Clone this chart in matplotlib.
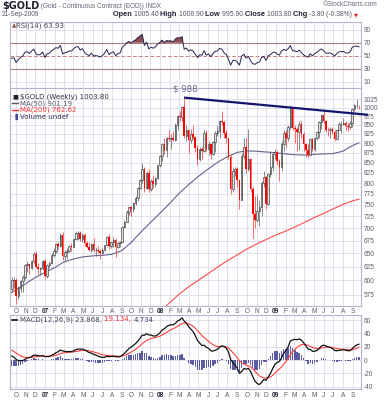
import matplotlib
matplotlib.use('Agg')
import matplotlib.pyplot as plt
import matplotlib.dates as mdates
from matplotlib import font_manager
from matplotlib.ticker import FixedLocator, NullLocator
import numpy as np
import pandas as pd

# ---------------- data (weekly, week starting Mondays) ----------------
first_week = '2006-09-18'
opens = [585, 600, 601, 573, 587, 598, 606, 627, 630, 622, 636, 648, 625, 620, 622,
         636, 608, 628, 632, 647, 655, 668, 665, 686, 645, 652, 655, 664, 663, 678,
         690, 691, 678, 686, 670, 662, 656, 668, 656, 657, 655, 651, 657, 666, 683,
         664, 672, 677, 662, 670, 673, 703, 714, 734, 745, 740, 754, 766, 788, 808,
         834, 788, 825, 785, 804, 797, 812, 843, 866, 897, 882, 914, 912, 914, 908,
         950, 975, 972, 1001, 920, 935, 910, 925, 916, 888, 858, 885, 880, 928, 886,
         898, 872, 903, 928, 933, 962, 958, 928, 914, 864, 786, 830, 834, 807, 762,
         866, 890, 835, 858, 785, 730, 718, 737, 745, 800, 815, 752, 822, 838, 872,
         878, 853, 838, 898, 928, 914, 945, 1002, 942, 940, 930, 953, 925, 897, 882,
         868, 912, 886, 915, 930, 958, 978, 962, 937, 936, 940, 930, 912, 937, 953,
         954, 956, 947, 944, 955, 996, 1007, 1005.4]
highs = [606, 606, 604, 590, 600, 610, 630, 635, 632, 638, 652, 654, 632, 625, 637,
         640, 630, 636, 650, 660, 670, 672, 690, 692, 656, 660, 666, 670, 680, 694,
         695, 694, 690, 690, 675, 672, 670, 680, 662, 664, 658, 660, 667, 685, 688,
         675, 682, 680, 672, 675, 705, 718, 738, 746, 748, 756, 770, 790, 810, 850,
         838, 830, 835, 810, 820, 815, 845, 870, 900, 915, 918, 935, 925, 932, 955,
         977, 990, 1005, 1034, 950, 940, 938, 950, 920, 895, 890, 890, 935, 935, 905,
         900, 905, 932, 948, 965, 990, 962, 935, 915, 868, 840, 840, 838, 810, 875,
         915, 915, 940, 862, 790, 770, 772, 760, 805, 830, 818, 825, 880, 875, 886,
         883, 860, 905, 935, 935, 950, 1008, 1003, 950, 945, 960, 960, 930, 900, 898,
         915, 915, 918, 932, 960, 980, 990, 965, 945, 945, 945, 935, 940, 958, 960,
         970, 960, 955, 960, 1000, 1012, 1025, 1006.9]
lows = [580, 586, 560, 568, 580, 580, 602, 615, 612, 620, 632, 622, 612, 610, 618,
        603, 605, 622, 630, 643, 650, 658, 662, 638, 635, 640, 652, 655, 662, 676,
        677, 675, 672, 665, 660, 655, 652, 652, 645, 651, 640, 648, 654, 664, 658,
        660, 662, 642, 660, 662, 672, 700, 712, 728, 725, 735, 750, 758, 785, 800,
        780, 786, 778, 782, 788, 790, 810, 838, 855, 873, 865, 905, 885, 905, 905,
        935, 960, 962, 915, 905, 875, 900, 912, 877, 845, 855, 860, 878, 880, 870,
        860, 868, 878, 920, 915, 950, 915, 900, 860, 775, 778, 818, 790, 740, 760,
        860, 825, 830, 780, 681, 700, 712, 705, 725, 790, 740, 750, 815, 830, 860,
        845, 805, 830, 880, 890, 905, 940, 935, 900, 880, 883, 915, 880, 863, 863,
        868, 880, 880, 910, 915, 940, 955, 930, 920, 915, 925, 905, 908, 935, 928,
        950, 935, 932, 940, 945, 990, 1000, 995.9]
closes = [600, 601, 573, 587, 598, 606, 627, 630, 622, 636, 648, 625, 620, 622, 636,
          608, 628, 632, 647, 655, 668, 665, 686, 645, 652, 655, 664, 663, 678, 690,
          691, 678, 686, 670, 662, 656, 668, 656, 657, 655, 651, 657, 666, 683, 664,
          672, 677, 662, 670, 673, 703, 714, 734, 745, 740, 754, 766, 788, 808, 834,
          788, 825, 785, 804, 797, 812, 843, 866, 897, 882, 914, 912, 914, 908, 950,
          975, 972, 1001, 920, 935, 910, 925, 916, 888, 858, 885, 880, 928, 886, 898,
          872, 903, 928, 933, 962, 958, 928, 914, 864, 786, 830, 834, 807, 762, 866,
          890, 835, 858, 785, 730, 718, 737, 745, 800, 815, 752, 822, 838, 872, 878,
          853, 838, 898, 928, 914, 945, 1002, 942, 940, 930, 953, 925, 897, 882, 868,
          912, 886, 915, 930, 958, 978, 962, 937, 936, 940, 930, 912, 937, 953, 954,
          956, 947, 944, 955, 996, 1007, 1007.6, 1003.8]

# moving averages (monthly samples + last value)
ma50_start = '2006-09-01'
ma50_vals = [574, 583, 594, 605, 614, 623, 633, 639, 643, 645, 646, 648, 655, 671,
             692, 712, 732, 754, 776, 797, 816, 834, 851, 865, 876, 880, 879, 877,
             875, 872, 870, 869, 871, 872, 873, 879, 894]
ma200_start = '2008-01-01'
ma200_vals = [548, 562, 576, 589, 600, 612, 624, 636, 647, 658, 668, 677, 686, 694,
              702, 712, 722, 731, 741, 751, 759]
last_date = '2009-09-21'
ma50_last = 901.19
ma200_last = 762.62

# indicator starting state (carried from before the visible period)
rsi_seed_gain, rsi_seed_loss = 6.0, 7.0
ema12_seed, ema26_seed, signal_seed = 618.0, 610.0, 17.0

trend_start = ('2008-03-17', 1030)
trend_end = ('2009-10-20', 979)

price_ticks = [575, 600, 625, 650, 675, 700, 725, 750, 775, 800, 825, 850, 875,
               900, 925, 950, 975, 1000, 1025]
rsi_ticks = [10, 30, 50, 70, 90]
macd_ticks = [-40, -20, 0, 20, 40, 60]

# ---------------- derived series ----------------
o = np.array(opens, float); h = np.array(highs, float)
l = np.array(lows, float); c = np.array(closes, float)
dates = pd.date_range(first_week, periods=len(c), freq='7D')
x = mdates.date2num(dates)

# RSI (Wilder, 14)
ag, al = rsi_seed_gain, rsi_seed_loss
rsi = []
prev = None
for v in c:
    if prev is not None:
        d = v - prev
        ag = (ag * 13 + max(d, 0)) / 14
        al = (al * 13 + max(-d, 0)) / 14
    rsi.append(100 - 100 / (1 + ag / al))
    prev = v
rsi = np.array(rsi)

# MACD (12,26,9)
e12, e26, sg = ema12_seed, ema26_seed, signal_seed
macd, sig = [], []
for v in c:
    e12 += 2 / 13 * (v - e12)
    e26 += 2 / 27 * (v - e26)
    m = e12 - e26
    sg += 0.2 * (m - sg)
    macd.append(m); sig.append(sg)
macd = np.array(macd); sig = np.array(sig)
hist = macd - sig

ma50_x = list(mdates.date2num(pd.date_range(ma50_start, periods=len(ma50_vals), freq='MS'))) + [mdates.datestr2num(last_date)]
ma50_y = ma50_vals + [ma50_last]
ma200_x = list(mdates.date2num(pd.date_range(ma200_start, periods=len(ma200_vals), freq='MS'))) + [mdates.datestr2num(last_date)]
ma200_y = ma200_vals + [ma200_last]

# ---------------- figure ----------------
names = {f.name for f in font_manager.fontManager.ttflist}
small_font = 'Liberation Sans Narrow' if 'Liberation Sans Narrow' in names else 'Liberation Sans'
plt.rcParams['font.family'] = ['DejaVu Sans']

W, H = 388, 400
fig = plt.figure(figsize=(3.88, 4.0), dpi=100)
fig.patch.set_facecolor('white')

def rect(x0, y0, x1, y1):
    return [x0 / W, 1 - y1 / H, (x1 - x0) / W, (y1 - y0) / H]

ax_r = fig.add_axes(rect(10, 22.3, 361, 88))
ax_p = fig.add_axes(rect(10, 88, 361, 305.7))
ax_m = fig.add_axes(rect(10, 315, 361, 389.3))

xmin = mdates.datestr2num('2006-09-12 14:00')
xmax = mdates.datestr2num('2009-09-27 14:00')
month_starts = pd.date_range('2006-10-01', '2009-09-01', freq='MS')
mx = mdates.date2num(month_starts)
mlabels = [("%02d" % (d.year % 100)) if d.month == 1 else d.strftime('%b')[0] for d in month_starts]

grid_c = '#dcdcea'
frame_c = '#b4b4cc'
lab_c = '#5a5a6a'

for ax in (ax_r, ax_p, ax_m):
    ax.set_xlim(xmin, xmax)
    ax.set_facecolor('white')
    for s in ax.spines.values():
        s.set_color(frame_c); s.set_linewidth(0.8)
    ax.yaxis.tick_right()
    ax.tick_params(axis='both', length=0, labelsize=4.7, colors=lab_c, pad=2)
    ax.set_xticks(mx)
    for xv in mx:
        ax.axvline(xv, color=grid_c, lw=0.6, zorder=0)

# ---- RSI panel ----
ax_r.set_ylim(0.3, 101.4)
ax_r.set_yticks(rsi_ticks)
ax_r.set_yticklabels([str(t) for t in rsi_ticks], family=small_font)
ax_r.set_xticklabels([])
for t in (10, 90):
    ax_r.axhline(t, color=grid_c, lw=0.6, zorder=0)
ax_r.axhline(70, color='#a88080', lw=0.8, zorder=1)
ax_r.axhline(30, color='#a88080', lw=0.8, zorder=1)
ax_r.axhline(50, color='#c88080', lw=0.7, ls=(0, (4, 2)), zorder=1)
ax_r.fill_between(x, 70, rsi, where=rsi > 70, interpolate=True, color='#8b4c4c', lw=0, zorder=2)
ax_r.fill_between(x, 30, rsi, where=rsi < 30, interpolate=True, color='#8b4c4c', lw=0, zorder=2)
ax_r.plot(x, rsi, color='#24244e', lw=0.7, zorder=3)
ax_r.spines['bottom'].set_visible(False)
ax_r.text(0.006, 0.94, '\u25b2', transform=ax_r.transAxes, fontsize=4, color='#8b4c4c', va='center', ha='left')
ax_r.text(0.018, 0.94, 'RSI(14) 63.93', transform=ax_r.transAxes, fontsize=5, color='#444455', va='center', ha='left')

# ---- price panel ----
ax_p.set_yscale('log')
ax_p.set_ylim(556.6, 1059.8)
ax_p.yaxis.set_major_locator(FixedLocator(price_ticks))
ax_p.yaxis.set_minor_locator(NullLocator())
ax_p.set_yticklabels([str(t) for t in price_ticks], family=small_font)
for t in price_ticks:
    ax_p.axhline(t, color=grid_c, lw=0.6, zorder=0)
ax_p.set_xticklabels(mlabels, family=small_font)
for lab in ax_p.get_xticklabels():
    if lab.get_text().isdigit():
        lab.set_fontweight('bold'); lab.set_color('#222233')

up = c >= o
ax_p.vlines(x[up], l[up], h[up], color='#6a6a6a', lw=0.55, zorder=3)
ax_p.vlines(x[~up], l[~up], h[~up], color='#ff4040', lw=0.55, zorder=3)
ax_p.bar(x[up], (c - o)[up], bottom=o[up], width=5.0, facecolor='#dedede',
         edgecolor='#3a3a3a', lw=0.45, zorder=4)
ax_p.bar(x[~up], (o - c)[~up], bottom=c[~up], width=5.0, color='#ff0000', lw=0, zorder=4)

ax_p.plot(ma50_x, ma50_y, color='#62628e', lw=0.8, zorder=2)
ax_p.plot(ma200_x, ma200_y, color='#ff4a4a', lw=0.8, zorder=2)

tx = [mdates.datestr2num(trend_start[0]), mdates.datestr2num(trend_end[0])]
ty = [trend_start[1], trend_end[1]]
ax_p.plot(tx, ty, color='#14146e', lw=1.6, zorder=6, clip_on=False, solid_capstyle='butt')
ax_p.text(mdates.datestr2num('2008-02-10'), 1058, '$ 988', fontsize=6.2, color='#6a6a90',
          ha='left', va='center', clip_on=False, zorder=7)

# legend
leg_rows = [(96.7, '$GOLD (Weekly) 1003.80', '#333344'),
            (103.4, 'MA(50) 901.19', '#555566'),
            (110.1, 'MA(200) 762.62', '#ff3030'),
            (116.8, 'Volume undef', '#333355')]
for yy, s, col in leg_rows:
    fig.text(20 / W, 1 - yy / H, s, fontsize=5, color=col, ha='left', va='center')
fig.text(12.5 / W, 1 - 96.7 / H, '\u25a0', fontsize=4.5, color='#222222', ha='left', va='center')
fig.lines.append(plt.Line2D([12.5 / W, 18 / W], [1 - 103.4 / H] * 2, color='#555566', lw=1, transform=fig.transFigure))
fig.lines.append(plt.Line2D([12.5 / W, 18 / W], [1 - 110.1 / H] * 2, color='#ff3030', lw=1, transform=fig.transFigure))
fig.text(12.5 / W, 1 - 116.8 / H, '\u2590', fontsize=4.5, color='#3c3c9a', ha='left', va='center')

# ---- MACD panel ----
ax_m.set_ylim(-43.9, 67.5)
ax_m.set_yticks(macd_ticks)
ax_m.set_yticklabels([str(t) for t in macd_ticks], family=small_font)
for t in macd_ticks:
    ax_m.axhline(t, color=grid_c, lw=0.6, zorder=0)
ax_m.set_xticklabels(mlabels, family=small_font)
for lab in ax_m.get_xticklabels():
    if lab.get_text().isdigit():
        lab.set_fontweight('bold'); lab.set_color('#222233')
ax_m.bar(x, hist, width=4.6, color='#5c5ca0', lw=0, zorder=2)
ax_m.plot(x, sig, color='#ff4040', lw=0.8, zorder=3)
ax_m.plot(x, macd, color='#111111', lw=0.9, zorder=4)

# ---------------- header texts ----------------
fig.canvas.draw()
r = fig.canvas.get_renderer()

def seq(x_px, y_px, pieces):
    xx = x_px
    for s, kw in pieces:
        t = fig.text(xx / W, 1 - y_px / H, s, va='center', ha='left', **kw)
        bb = t.get_window_extent(renderer=r)
        xx += bb.width
    return xx

seq(2, 6, [('$GOLD', dict(fontsize=7, fontweight='bold', color='#222233')),
           (' (Gold - Continuous Contract (EOD)) INDX', dict(fontsize=4.7, color='#666677', family='Liberation Sans'))])
fig.text(378 / W, 1 - 5 / H, '\u00a9StockCharts.com', fontsize=4.7, color='#666677',
         ha='right', va='center', family='Liberation Sans')
fig.text(2 / W, 1 - 14.7 / H, '21-Sep-2009', fontsize=4.7, color='#555566', ha='left', va='center',
         family='Liberation Sans')
bold = dict(fontsize=5.3, fontweight='bold', color='#222233', family='Liberation Sans')
norm = dict(fontsize=4.9, color='#555566', family='Liberation Sans')
end = seq(113, 14.7, [('Open ', bold), ('1005.40 ', norm), ('High ', bold), ('1006.90 ', norm),
                      ('Low ', bold), ('995.90 ', norm), ('Close ', bold), ('1003.80 ', norm),
                      ('Chg ', bold), ('-3.80 (-0.38%) ', norm)])
fig.text(end / W, 1 - 14.7 / H, '\u25bc', fontsize=3.8, color='#ff2020', ha='left', va='center')

# MACD legend
fig.lines.append(plt.Line2D([12 / W, 17 / W], [1 - 319.5 / H] * 2, color='#111111', lw=1.2, transform=fig.transFigure))
seq(20, 319.5, [('MACD(12,26,9) 23.868, ', dict(fontsize=5, color='#444455')),
                ('19.134, ', dict(fontsize=5, color='#ff3030')),
                ('4.734', dict(fontsize=5, color='#44446a'))])

fig.savefig('out.png', dpi=100, facecolor='white')
